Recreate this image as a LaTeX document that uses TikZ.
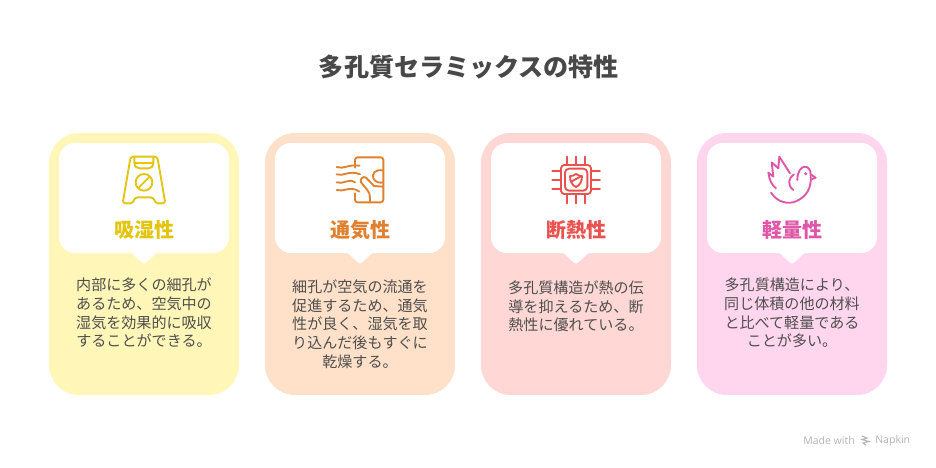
\documentclass[tikz,border=0pt]{standalone}
\usepackage{fontspec}
\setmainfont{Noto Sans CJK JP}
\newfontfamily\latinfont{Open Sans}
\definecolor{ca}{HTML}{FFF6B8}\definecolor{cb}{HTML}{FFE0C8}\definecolor{cc}{HTML}{FFD7D5}\definecolor{cd}{HTML}{FFD6EE}
\definecolor{aa}{HTML}{E3C50F}\definecolor{ab}{HTML}{E0812F}\definecolor{ac}{HTML}{E8524F}\definecolor{ad}{HTML}{DF57A8}
\definecolor{ink}{HTML}{4F4F4F}\definecolor{ttl}{HTML}{484848}\definecolor{mark}{HTML}{B4B4B4}
\tikzset{
 cardbg/.style={rounded corners=22.5pt,draw=none},
 whitebox/.style={fill=white,rounded corners=12pt,draw=none},
 head/.style={font=\fontsize{15}{18}\selectfont\bfseries,anchor=center},
 body/.style={font=\fontsize{11.3}{14}\selectfont,text=ink,align=center,anchor=center,text width=132pt},
 icon/.style={line width=1.4pt,line cap=round,line join=round,fill=none},
 zoomed/.style={x=0.25pt,y=-0.25pt}
}
\newcommand{\cardshape}[2]{%
 \fill[#2,cardbg] (#1,133) rectangle ++(190,262);
 \fill[whitebox] (#1+10,143) rectangle ++(170,110);
 \fill[white] (#1+82,252.5) -- (#1+93,262.5) .. controls (#1+94.5,264) and (#1+95.5,264) .. (#1+97,262.5) -- (#1+108,252.5) -- cycle;
}
\begin{document}
\begin{tikzpicture}[x=0.75pt,y=-0.75pt]
\useasboundingbox (0,0) rectangle (936,468);
\fill[white] (0,0) rectangle (936,468);
\node[font=\fontsize{18.8}{22}\selectfont\bfseries,text=ttl] (title) at (469,67) {多孔質セラミックスの特性};
\cardshape{49}{ca}\cardshape{265}{cb}\cardshape{481}{cc}\cardshape{697}{cd}
% icon 1
\begin{scope}[shift={(40,125)},zoomed,icon,draw=aa]
 \draw[rounded corners=2pt] (272,95) -- (352,95) -- (376,235) -- (347,235) -- (340,217) -- (285,217) -- (278,235) -- (248,235) -- cycle;
 \draw (283,95) -- (283,112) .. controls (283,124) and (290,130) .. (298,130) -- (326,130) .. controls (334,130) and (340,124) .. (340,112) -- (340,95);
 \draw (284,113) -- (340,113);
 \draw (312,172) circle[radius=25];
 \draw (296,188) -- (328,156);
\end{scope}
% icon 2
\begin{scope}[shift={(260,125)},zoomed,icon,draw=ab]
 \draw[rounded corners=2pt] (285,128) -- (285,97) -- (370,97) -- (370,232) -- (285,232) -- (285,205);
 \draw (230,126) .. controls (250,134) and (265,117) .. (298,122);
 \draw (230,148) .. controls (250,156) and (265,134) .. (300,148);
 \draw (230,172) .. controls (250,180) and (265,158) .. (285,172);
 \draw (230,195) .. controls (250,203) and (270,180) .. (298,200);
 \draw (370,137) .. controls (345,130) and (335,148) .. (340,160) .. controls (345,172) and (360,175) .. (370,172);
 \draw (370,185) -- (342,183) -- (318,158) .. controls (310,152) and (298,162) .. (303,172) -- (322,195) .. controls (328,202) and (330,205) .. (330,232);
\end{scope}
% icon 3
\begin{scope}[shift={(480,125)},zoomed,icon,draw=ac]
 \draw[rounded corners=2.5pt] (243,120) rectangle (333,207);
 \draw[rounded corners=3pt] (255,131) rectangle (322,197);
 \foreach \p in {260,288,315}{\draw (\p,95) -- (\p,120); \draw (\p,207) -- (\p,235);}
 \foreach \p in {137,165,192}{\draw (217,\p) -- (243,\p); \draw (333,\p) -- (360,\p);}
 \draw (288,147) .. controls (295,152) and (300,153) .. (306,153) .. controls (306,170) and (300,180) .. (288,186) .. controls (276,180) and (270,170) .. (270,153) .. controls (276,153) and (281,152) .. (288,147) -- cycle;
 \draw (274,170) -- (304,153);
\end{scope}
% icon 4
\begin{scope}[shift={(690,125)},zoomed,icon,draw=ad]
 \draw (243,203) .. controls (262,232) and (295,240) .. (320,228) .. controls (348,215) and (366,190) .. (362,150);
 \draw (322,165) .. controls (322,140) and (333,125) .. (345,125) .. controls (355,125) and (362,135) .. (362,148);
 \draw (362,148) -- (377,158) -- (365,163);
 \fill[ad,draw=none] (347,146) circle[radius=5];
 \draw (300,145) -- (268,95) -- (265,130) -- (245,112) -- (250,155) -- (235,143) .. controls (238,165) and (245,180) .. (258,190);
 \draw (312,148) .. controls (296,158) and (290,180) .. (310,195);
\end{scope}
% headings
\node[head,text=aa] (h1) at (144,230) {吸湿性};
\node[head,text=ab] (h2) at (360,230) {通気性};
\node[head,text=ac] (h3) at (576,230) {断熱性};
\node[head,text=ad] (h4) at (792,230) {軽量性};
% bodies
\node[body] (b1) at (144,313) {内部に多くの細孔が\\あるため、空気中の\\湿気を効果的に吸収\\することができる。};
\node[body] (b2) at (360,324) {細孔が空気の流通を\\促進するため、通気\\性が良く、湿気を取\\り込んだ後もすぐに\\乾燥する。};
\node[body] (b3) at (576,306.5) {多孔質構造が熱の伝\\導を抑えるため、断\\熱性に優れている。};
\node[body] (b4) at (792,313) {多孔質構造により、\\同じ体積の他の材料\\と比べて軽量である\\ことが多い。};
% watermark
\node[font=\latinfont\fontsize{7.9}{10}\selectfont,text=mark,anchor=west,inner sep=0pt] (m1) at (803,440.5) {Made with};
\node[font=\latinfont\fontsize{7.9}{10}\selectfont,text=mark,anchor=west,inner sep=0pt] (m2) at (875,440.5) {Napkin};
\begin{scope}[shift={(866,440.5)},line width=0.8pt,draw=mark]
 \draw (-4,-4.5) -- (1,-2.5) -- (-4,-1) -- (3,1) -- (-3,2.5) -- (0,4.5);
\end{scope}
\end{tikzpicture}
\end{document}
